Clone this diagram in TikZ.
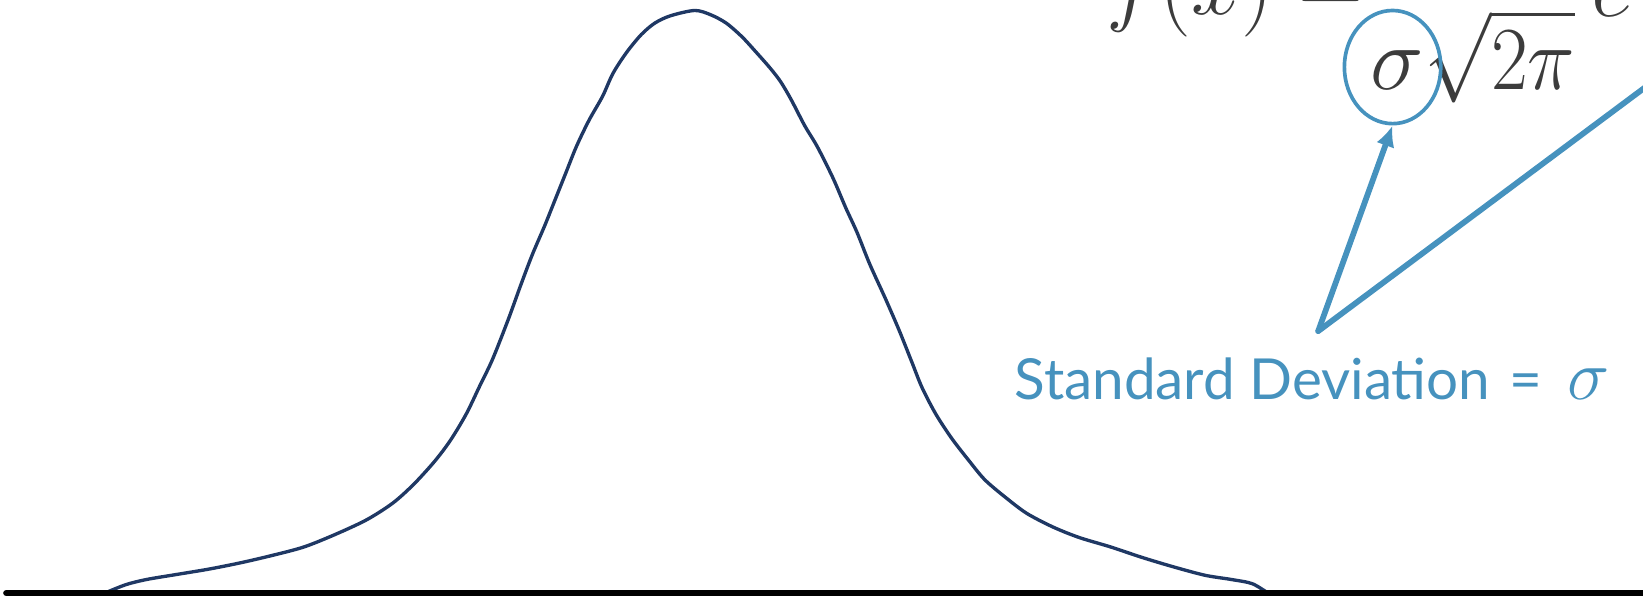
\RequirePackage{fix-cm}
\documentclass[tikz,border=0pt]{standalone}
\usepackage{amsmath}
\usepackage{fontspec}
\setsansfont{Lato}
\usetikzlibrary{arrows.meta,shapes.geometric}
\definecolor{curvenavy}{RGB}{31,56,100}
\definecolor{noteblue}{RGB}{70,146,190}
\definecolor{formgray}{RGB}{60,60,60}

\begin{document}
\begin{tikzpicture}[x=1pt,y=-1pt,inner sep=0pt]
\def\fs{\fontsize{86}{90}\selectfont}
\useasboundingbox (0,0) rectangle (1568,568);
\clip (0,0) rectangle (1568,568);
\node[anchor=base west,text=formgray] (fx) at (1056,14) {\fs$f(x)=$};
\node[anchor=base west,text=formgray] (den) at (1308,85) {\fs$\sigma$\scalebox{0.89}[1]{$\sqrt{2\pi}$}};
\node[anchor=base west,text=formgray] (ee) at (1519,16) {\fs$e$};
\node[draw=noteblue,line width=3.5pt,ellipse,minimum width=92,minimum height=108] (sig) at (1329,64) {};
\node[anchor=base west,text=noteblue] (sd) at (968,381) {\fontsize{54}{60}\selectfont\sffamily Standard Deviation\hspace{18pt}=\hspace{24pt}{\fontsize{68}{70}\selectfont$\sigma$}};
\coordinate (src) at (1258,316);
\coordinate (off) at (1600,61);

\draw[noteblue,line width=5.5pt,line cap=round,-{Latex[length=20pt,width=18pt]}] (src) -- (sig.south);
\draw[noteblue,line width=5.5pt,line cap=round] (src) -- (off);

\draw[curvenavy,line width=3.2pt] plot[smooth,tension=0.5] coordinates {
(100,566) (120,558) (140,553) (170,548) (200,543) (230,537) (260,530) (290,522)
(320,510) (350,496) (375,480) (395,462) (415,440) (430,420) (445,395) (458,368)
(470,343) (485,305) (497,272) (508,243) (520,215) (530,190) (540,165) (550,140)
(562,115) (575,92) (585,70) (598,50) (612,33) (625,22) (640,15) (663,10)
(678,14) (693,22) (708,35) (720,48) (735,65) (745,78) (755,95) (768,120)
(780,140) (795,170) (807,198) (818,222) (830,252) (845,285) (858,315) (870,345)
(880,370) (893,395) (908,418) (925,440) (940,458) (960,475) (980,490) (1005,503)
(1030,513) (1060,522) (1090,532) (1120,541) (1150,549) (1175,553) (1195,557) (1210,566)};
\draw[line width=6pt,line cap=round] (6,566) -- (1580,566);
\end{tikzpicture}
\end{document}
